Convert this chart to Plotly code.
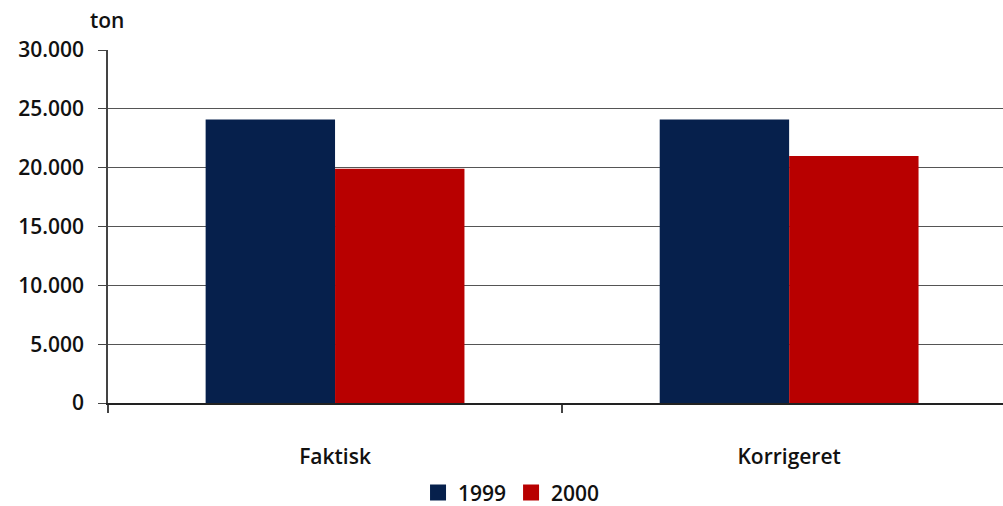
import plotly.graph_objects as go

categories = ["Faktisk", "Korrigeret"]
series_names = ["1999", "2000"]
values_1999 = [24100, 24100]
values_2000 = [19900, 21000]
colors = ["#06204c", "#b80000"]
y_ticks = [0, 5000, 10000, 15000, 20000, 25000, 30000]

fig = go.Figure()
for name, vals, col in zip(series_names, [values_1999, values_2000], colors):
    fig.add_trace(go.Bar(x=categories, y=vals, name=name, marker_color=col,
                         marker_line_width=0, showlegend=False))
# legend-only entries with larger square swatches
for name, col in zip(series_names, colors):
    fig.add_trace(go.Scatter(x=[None], y=[None], mode="markers", name=name,
                             marker=dict(symbol="square", size=19, color=col),
                             showlegend=True))

font_family = "'Open Sans', Lato, sans-serif"
fsize = 21
fig.update_layout(
    width=1003, height=506,
    margin=dict(l=108, r=0, t=50, b=103, autoexpand=False),
    paper_bgcolor="white", plot_bgcolor="white",
    barmode="group", bargap=0.43, bargroupgap=0,
    separators=",.",
    font=dict(family=font_family, size=fsize, color="#111"),
    showlegend=True,
    legend=dict(orientation="h", x=0.51, xref="container", xanchor="center",
                y=0.026, yref="container", yanchor="middle",
                font=dict(size=fsize, family=font_family, weight=600),
                itemwidth=30, traceorder="normal", tracegroupgap=0),
    xaxis=dict(range=[-0.5, 1.471], showgrid=False, showline=True, linecolor="#222",
               linewidth=1.5, ticks="outside", tickson="boundaries", ticklen=8,
               tickcolor="#444", tickwidth=1.5,
               tickfont=dict(size=fsize, family=font_family, weight=600),
               ticklabelstandoff=34),
    yaxis=dict(range=[0, 30000], tickvals=y_ticks, tickformat=",d",
               showgrid=True, gridcolor="#555", gridwidth=1.2,
               showline=True, linecolor="#444", linewidth=1.5,
               ticks="outside", ticklen=8, tickcolor="#444", tickwidth=1.2,
               tickfont=dict(size=fsize, family=font_family, weight=600),
               ticklabelstandoff=10, zeroline=False),
    annotations=[dict(text="ton", xref="paper", yref="paper",
                      x=-0.001, y=1.0, yshift=30, xanchor="center", yanchor="middle",
                      showarrow=False,
                      font=dict(size=fsize, family=font_family, weight=600))],
)

fig.write_html("out.html")
